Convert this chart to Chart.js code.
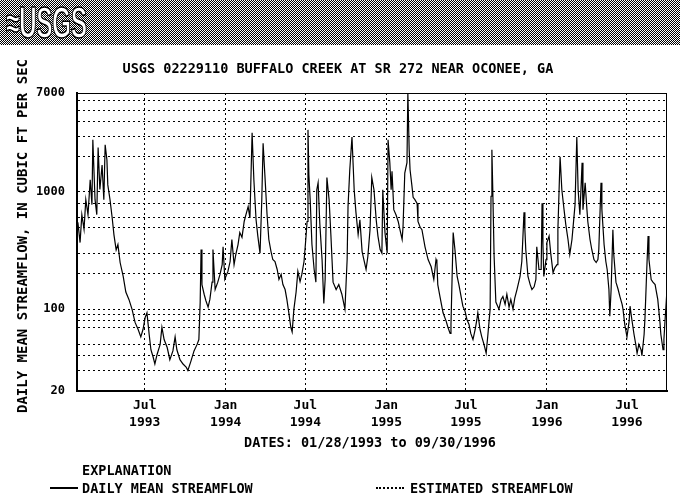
<!DOCTYPE html>
<html>
<head>
<meta charset="utf-8">
<script src="https://cdn.jsdelivr.net/npm/chart.js@4.4.1/dist/chart.umd.min.js"></script>
<style>
  body { margin: 0; background: #fff; }
  #wrap { position: relative; width: 680px; height: 503px; overflow: hidden; font-family: 'DejaVu Sans Mono', monospace; font-weight: bold; color: #000; }
  #chart { position: absolute; left: 0; top: 0; }
  .txt { position: absolute; white-space: nowrap; font-size: 13.5px; line-height: 16px; }
  #banner { position: absolute; left: 0; top: 0; width: 680px; height: 45px;
    background-image: repeating-conic-gradient(#000 0% 25%, #fff 0% 50%); background-size: 2px 2px; }
  #logo { position: absolute; left: 6px; top: 0px; font-family: 'Liberation Sans Narrow', 'Liberation Sans', sans-serif;
    font-size: 44px; line-height: 46px; font-weight: bold; color: #fff; -webkit-text-stroke: 1.5px #000;
    transform: scaleX(0.56); transform-origin: left top; letter-spacing: -1px; }
  #ytitle { left: 22px; top: 236px; font-size: 14px; transform: translate(-50%, -50%) rotate(-90deg); }
  .leg { position: absolute; height: 0; }
</style>
</head>
<body>
<div id="wrap">
  <canvas id="chart" width="680" height="503"></canvas>
  <div id="banner"><div id="logo">≈USGS</div></div>
  <div class="txt" style="left:0; width:676px; text-align:center; top:60px;">USGS 02229110 BUFFALO CREEK AT SR 272 NEAR OCONEE, GA</div>
  <div class="txt" id="ytitle">DAILY MEAN STREAMFLOW, IN CUBIC FT PER SEC</div>
  <div class="txt" style="left:0; width:740px; text-align:center; top:434px;">DATES: 01/28/1993 to 09/30/1996</div>
  <div class="txt" style="left:82px; top:462px;">EXPLANATION</div>
  <div class="leg" style="left:50px; top:487px; width:28px; border-top:2px solid #000;"></div>
  <div class="txt" style="left:82px; top:480px;">DAILY MEAN STREAMFLOW</div>
  <div class="leg" style="left:376px; top:487px; width:28px; border-top:2px dotted #000;"></div>
  <div class="txt" style="left:410px; top:480px;">ESTIMATED STREAMFLOW</div>
</div>
<script>
// days since 01/28/1993 and daily mean streamflow (cfs)
const flowDays = [
  0, 2, 7, 11, 16, 20, 25, 30, 34, 36, 41, 45, 48, 52, 57, 61, 64, 68, 70, 75, 80, 84, 89, 93, 98,
  105, 111, 118, 125, 132, 139, 145, 150, 155, 159, 164, 168, 173, 177, 182, 189, 193, 198, 205, 211, 218, 223,
  227, 234, 241, 248, 252, 259, 266, 273, 277, 280, 282, 284, 289, 293, 298, 302, 307, 309, 314, 320, 325,
  330, 332, 336, 343, 348, 352, 357, 361, 366, 370, 375, 380, 384, 389, 393, 398, 402, 407, 411, 416, 420,
  423, 427, 432, 436, 441, 445, 450,
  455, 459, 464, 468, 473, 477, 482, 486, 489, 493, 498, 502, 507, 511, 516, 520, 523, 525, 527, 530, 534,
  539, 543, 545, 548, 552, 557, 561, 564, 568, 573, 577, 582, 589, 595, 602, 609, 614, 616, 620, 625, 630,
  634, 639, 643, 648, 652, 657, 661, 666, 670, 675,
  680, 684, 689, 693, 695, 700, 705, 707, 711, 714, 716, 720, 725, 730, 734, 739, 741, 745, 750, 752, 755,
  757, 761, 764, 768, 773, 775, 780, 784, 791, 798, 805, 811, 816, 818, 820, 825, 832, 839, 843, 848, 850,
  855, 859, 864, 868, 873, 877, 882, 886, 891, 895, 900,
  905, 909, 911, 916, 920, 925, 930, 934, 939, 941, 943, 945, 948, 952, 959, 964, 968, 973, 977, 982, 986,
  991, 995, 1000, 1007, 1011, 1016, 1018, 1020, 1025, 1030, 1034, 1039, 1043, 1045, 1050, 1055, 1057, 1059,
  1061, 1066, 1068, 1073, 1077, 1082, 1086, 1091, 1093, 1098, 1102, 1107, 1111, 1116, 1120,
  1125, 1127, 1132, 1136, 1139, 1143, 1148, 1150, 1155, 1159, 1161, 1166, 1170, 1175, 1180, 1184, 1186,
  1191, 1193, 1198, 1202, 1205, 1209, 1211, 1214, 1218, 1220, 1225, 1230, 1234, 1239, 1241, 1245, 1250,
  1255, 1257, 1261, 1266, 1270, 1273, 1277, 1282, 1284, 1289, 1291, 1295, 1298, 1300, 1305, 1309, 1314,
  1316, 1320, 1325, 1327, 1332, 1334, 1336, 1341
];
const flowCfs = [
  480, 550, 370, 640, 480, 860, 640, 1270, 780, 2790, 860, 640, 2400, 1050, 1700, 860, 2530, 1880, 1150, 860, 600, 430, 320, 356, 250,
  190, 140, 121, 100, 77, 67, 58, 67, 85, 93, 61, 45, 39, 34, 41, 50, 70, 55, 47, 37, 44, 58,
  45, 37, 34, 32, 30, 36, 44, 50, 55, 115, 323, 162, 134, 118, 104, 121, 170, 323, 147, 170, 198,
  240, 340, 180, 210, 255, 393, 240, 293, 356, 450, 410, 560, 640, 750, 600, 3200, 1270, 580, 420, 300, 860,
  2600, 1400, 640, 393, 310, 265, 255,
  218, 179, 198, 162, 147, 121, 90, 70, 64, 100, 140, 210, 172, 198, 255, 393, 560, 3390, 1400, 860, 356,
  218, 170, 1046, 1200, 527, 265, 112, 179, 1330, 860, 433, 170, 147, 162, 134, 100, 265, 750, 1550, 2950, 1046,
  670, 433, 580, 310, 265, 218, 280, 477, 1330, 1046,
  581, 420, 323, 300, 1046, 450, 300, 2787, 1780, 1046, 1500, 707, 640, 560, 477, 393, 500, 1450, 1780, 7000, 2290,
  1550, 1150, 900, 860, 800, 560, 500, 477, 340, 265, 230, 179, 265, 250, 162, 128, 93, 79, 70, 62, 74,
  450, 323, 190, 162, 128, 106, 96, 82, 74, 62, 55,
  67, 82, 93, 67, 58, 50, 42, 61, 100, 920, 2290, 1046, 285, 115, 100, 121, 128, 110, 134, 104, 121,
  100, 124, 147, 190, 255, 670, 477, 323, 190, 162, 147, 155, 179, 340, 218, 218, 800, 356,
  190, 265, 370, 420, 293, 205, 225, 240, 477, 2000, 1046, 707, 527, 393, 293,
  393, 477, 780, 2950, 1046, 640, 1780, 707, 1200, 707, 560, 393, 323, 265, 250, 265, 323,
  1200, 707, 356, 255, 218, 147, 87, 147, 477, 293, 170, 147, 128, 110, 100, 74, 58,
  79, 106, 82, 61, 50, 42, 50, 45, 40, 61, 85, 218, 420, 265, 179, 170, 162,
  147, 121, 77, 61, 45, 55, 74, 147
];

// x axis ticks: Jul/Jan starts, in days since 01/28/1993
const tickDays = [154, 338, 519, 703, 884, 1068, 1250];
const tickMonths = ['Jul', 'Jan', 'Jul', 'Jan', 'Jul', 'Jan', 'Jul'];
const tickYears = ['1993', '1994', '1994', '1995', '1995', '1996', '1996'];
const lastDay = 1341;

// y axis grid lines and labelled values
const gridValues = [20, 30, 40, 50, 70, 80, 90, 100, 200, 300, 500, 600, 800, 1000, 2000, 3000, 4000, 5000, 6000, 7000];
const labeledValues = [20, 100, 1000, 7000];

const monoBold = { family: 'DejaVu Sans Mono', weight: 'bold', size: 13, lineHeight: 1.3 };

// top and right edges of the plot frame
const framePlugin = {
  id: 'frame',
  afterDraw(chart) {
    const { ctx, chartArea: a } = chart;
    ctx.save();
    ctx.strokeStyle = '#000';
    ctx.lineWidth = 1;
    ctx.beginPath();
    ctx.moveTo(a.left, a.top + 0.5);
    ctx.lineTo(a.right, a.top + 0.5);
    ctx.moveTo(a.right - 0.5, a.top);
    ctx.lineTo(a.right - 0.5, a.bottom);
    ctx.stroke();
    ctx.restore();
  }
};

const ctx = document.getElementById('chart').getContext('2d');
new Chart(ctx, {
  type: 'line',
  data: {
    datasets: [{
      label: 'DAILY MEAN STREAMFLOW',
      data: flowDays.map((d, i) => ({ x: d, y: flowCfs[i] })),
      borderColor: '#000',
      borderWidth: 1.2,
      pointRadius: 0,
      tension: 0,
      fill: false
    }]
  },
  options: {
    responsive: false,
    animation: false,
    layout: { padding: { left: 0, right: 13, top: 93, bottom: 0 } },
    plugins: {
      legend: { display: false },
      tooltip: { enabled: false },
      title: { display: false }
    },
    scales: {
      x: {
        type: 'linear',
        min: 0,
        max: lastDay,
        afterBuildTicks: (scale) => { scale.ticks = tickDays.map(v => ({ value: v })); },
        afterFit: (scale) => { scale.height = 112; },
        ticks: {
          autoSkip: false,
          maxRotation: 0,
          padding: 6,
          color: '#000',
          font: monoBold,
          callback: (v) => {
            const i = tickDays.indexOf(v);
            return i < 0 ? '' : [tickMonths[i], tickYears[i]];
          }
        },
        grid: { color: '#000', lineWidth: 1, drawTicks: false },
        border: { color: '#000', width: 2, dash: [2, 3] }
      },
      y: {
        type: 'logarithmic',
        min: 20,
        max: 7000,
        afterBuildTicks: (scale) => { scale.ticks = gridValues.map(v => ({ value: v })); },
        afterFit: (scale) => { scale.width = 77; },
        ticks: {
          autoSkip: false,
          padding: 12,
          color: '#000',
          font: { family: 'DejaVu Sans Mono', weight: 'bold', size: 12 },
          callback: (v) => labeledValues.includes(v) ? String(v) : ''
        },
        grid: { color: '#000', lineWidth: 1, drawTicks: false },
        border: { color: '#000', width: 2, dash: [2, 3] }
      }
    }
  },
  plugins: [framePlugin]
});
</script>
</body>
</html>
